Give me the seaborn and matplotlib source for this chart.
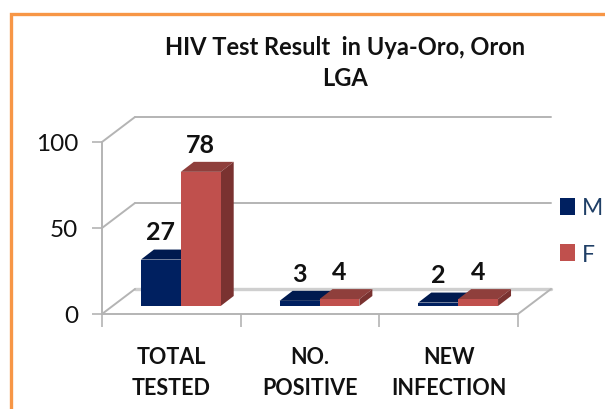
import pandas as pd
import matplotlib
matplotlib.use("Agg")
import matplotlib.pyplot as plt
import seaborn as sns
from matplotlib.patches import Polygon, Rectangle

# data
categories = ["TOTAL\nTESTED", "NO.\nPOSITIVE", "NEW\nINFECTION"]
male = [27, 3, 2]
female = [78, 4, 4]
title = "HIV Test Result  in Uya-Oro, Oron\nLGA"

df = pd.DataFrame({
    "group": categories * 2,
    "sex": ["M"] * 3 + ["F"] * 3,
    "value": male + female,
})

sns.set_style("white")
plt.rcParams["font.family"] = ["Lato", "DejaVu Sans"]

W, H = 605, 410
fig = plt.figure(figsize=(W / 100, H / 100), dpi=100)
ax = fig.add_axes([102 / W, (H - 315) / H, 416 / W, 172 / H])
ax.patch.set_alpha(0)

sns.barplot(data=df, x="group", y="value", hue="sex", order=categories,
            hue_order=["M", "F"], palette=["#002060", "#C0504D"],
            width=0.575, gap=0, saturation=1, linewidth=0, ax=ax, zorder=3)

ax.set_xlim(-0.5, 2.5)
ax.set_ylim(0, 100)

# size of one pixel in data units
px_x = 3 / 416
px_y = 100 / 172

# fake 3d wall and floor
wall_dx = 33 * px_x
wall_dy = 25 * px_y
grid = "#b4b4b4"
for v in [0, 50, 100]:
    lw = 2.4 if v == 0 else 1.4
    col = "#cfcfcf" if v == 0 else grid
    ax.plot([-0.5 + wall_dx, 2.5 + wall_dx], [v + wall_dy, v + wall_dy],
            color=col, lw=lw, clip_on=False, zorder=1)
    ax.plot([-0.5, -0.5 + wall_dx], [v, v + wall_dy],
            color=grid, lw=1.4, clip_on=False, zorder=1)
ax.plot([2.5, 2.5 + wall_dx], [0, wall_dy], color=grid, lw=1.4, clip_on=False, zorder=1)

# move the bars on to the floor and give them depth
bar_dx = 13 * px_x
bar_dy = 10 * px_y
lift = 8 * px_y
shift = 9.5 * px_x
tops = {"#002060": "#001A4F", "#C0504D": "#8F3F3C"}
sides = {"#002060": "#00174A", "#C0504D": "#7A3230"}
for c, (cont, col) in enumerate(zip(ax.containers, ["#002060", "#C0504D"])):
    for rect in cont:
        rect.set_x(rect.get_x() + shift)
        rect.set_y(rect.get_y() + lift)
        x0, x1 = rect.get_x(), rect.get_x() + rect.get_width()
        y0, y1 = rect.get_y(), rect.get_y() + rect.get_height()
        z = 3 + c
        rect.set_zorder(z + 0.2)
        ax.add_patch(Polygon([(x0, y1), (x0 + bar_dx, y1 + bar_dy), (x1 + bar_dx, y1 + bar_dy), (x1, y1)],
                             fc=tops[col], ec="none", zorder=z))
        ax.add_patch(Polygon([(x1, y0), (x1 + bar_dx, y0 + bar_dy), (x1 + bar_dx, y1 + bar_dy), (x1, y1)],
                             fc=sides[col], ec="none", zorder=z))
        ax.annotate(f"{rect.get_height():.0f}", ((x0 + x1) / 2, y1), xytext=(0, 20),
                    textcoords="offset points", ha="center", va="center",
                    fontsize=18, fontweight="bold", color="#111111", zorder=8,
                    annotation_clip=False)

# axes
sns.despine(ax=ax, top=True, right=True)
for s in ["left", "bottom"]:
    ax.spines[s].set_color(grid)
    ax.spines[s].set_linewidth(1.4)
ax.set_yticks([0, 50, 100])
ax.tick_params(axis="y", length=7, width=1.2, color=grid, labelsize=17.5, pad=10,
               labelcolor="#111111", left=True)
ax.set_xticks([0, 1, 2])
ax.set_xticklabels(categories, fontweight="bold", fontsize=15.5, color="#111111", linespacing=1.62)
ax.set_xticks([-0.5, 0.5, 1.5, 2.5], minor=True)
ax.tick_params(axis="x", which="minor", length=9, width=1.2, color=grid, bottom=True)
ax.tick_params(axis="x", which="major", length=0, pad=23)
ax.set_xlabel("")
ax.set_ylabel("")

leg = ax.legend(loc="center left", bbox_to_anchor=(560 / W, (H - 232) / H),
                bbox_transform=fig.transFigure, frameon=False, fontsize=16.5,
                handlelength=0.65, handleheight=0.8, handletextpad=0.3,
                labelspacing=1.1, borderpad=0, borderaxespad=0, title=None)
for t in leg.get_texts():
    t.set_color("#1F3F66")

fig.text(345 / W, (H - 63) / H, title, ha="center", va="center", fontsize=17,
         fontweight="bold", color="#111111", linespacing=1.42)

# orange chart border, runs off the right and bottom edges
fig.add_artist(Rectangle((11 / W, -0.05), 1, (H - 15) / H + 0.05, transform=fig.transFigure,
                         fc="none", ec="#F79646", lw=2.4))

fig.savefig("out.png", dpi=100)
